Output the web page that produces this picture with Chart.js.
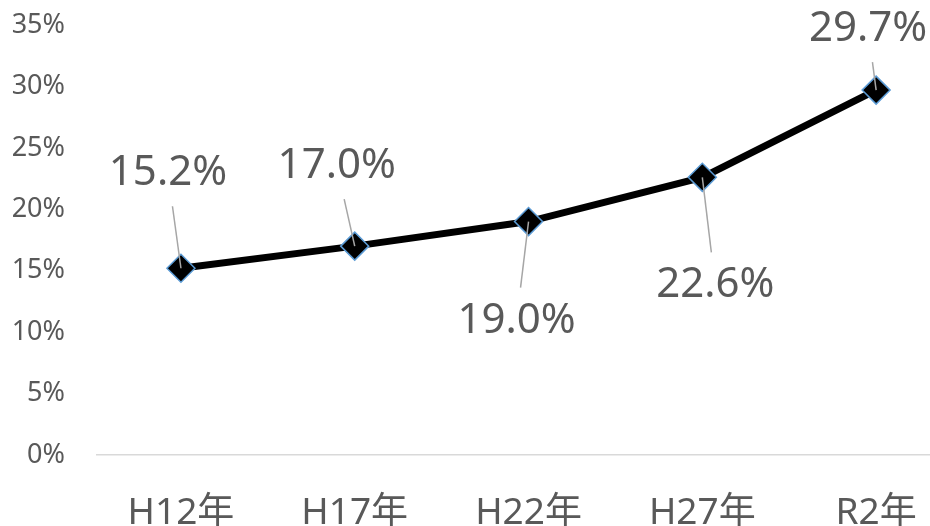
<!DOCTYPE html>
<html>
<head>
<meta charset="utf-8">
<script src="https://cdn.jsdelivr.net/npm/chart.js@4"></script>
<style>
  html, body { margin: 0; padding: 0; background: #fff; overflow: hidden; }
  #wrap { width: 930px; height: 526px; position: relative; }
</style>
</head>
<body>
<div id="wrap"><canvas id="rateChart"></canvas></div>
<script>
const years = ['H12年', 'H17年', 'H22年', 'H27年', 'R2年'];
const rates = [15.2, 17.0, 19.0, 22.6, 29.7];
const yTicks = [0, 5, 10, 15, 20, 25, 30, 35];

// where each value label sits relative to its point (px)
const labelOffsets = [[-13, -95], [-18, -80], [-12, 99], [13, 108], [-8, -61]];

const TEXT = '#595959';
const FONT = "'Noto Sans', 'Noto Sans CJK JP', sans-serif";

// value labels with gray leader lines, drawn over the markers
const calloutLabels = {
    id: 'calloutLabels',
    afterDatasetsDraw(chart) {
        const ctx = chart.ctx;
        const pts = chart.getDatasetMeta(0).data;
        ctx.save();
        pts.forEach((pt, i) => {
            const [dx, dy] = labelOffsets[i];
            const t = (Math.abs(dy) - 33) / Math.abs(dy);
            ctx.strokeStyle = '#a6a6a6';
            ctx.lineWidth = 1.5;
            ctx.beginPath();
            ctx.moveTo(pt.x, pt.y);
            ctx.lineTo(pt.x + dx * t, pt.y + dy * t);
            ctx.stroke();
            ctx.fillStyle = TEXT;
            ctx.font = '42px ' + FONT;
            ctx.textAlign = 'center';
            ctx.textBaseline = 'middle';
            ctx.fillText(rates[i].toFixed(1) + '%', pt.x + dx, pt.y + dy);
        });
        ctx.restore();
    }
};

new Chart(document.getElementById('rateChart'), {
    type: 'line',
    data: {
        datasets: [{
            data: rates.map((v, i) => ({ x: i, y: v })),
            borderColor: '#000',
            borderWidth: 7,
            pointStyle: 'rectRot',
            pointRadius: 14,
            pointBackgroundColor: '#000',
            pointBorderColor: '#5b9bd5',
            pointBorderWidth: 1.5,
            tension: 0
        }]
    },
    options: {
        responsive: true,
        maintainAspectRatio: false,
        animation: false,
        layout: { autoPadding: false, padding: { top: 25, right: 0, left: 0, bottom: 0 } },
        plugins: { legend: { display: false }, tooltip: { enabled: false } },
        scales: {
            x: {
                type: 'linear',
                min: -0.483,
                max: 4.31,
                afterBuildTicks: s => { s.ticks = years.map((_, i) => ({ value: i })); },
                afterFit: s => { s.height = 71; s.paddingLeft = 0; s.paddingRight = 0; },
                grid: { display: false, drawTicks: false },
                border: { display: true, color: '#d9d9d9', width: 1.5 },
                ticks: {
                    autoSkip: false,
                    maxRotation: 0,
                    padding: 36,
                    color: TEXT,
                    font: { size: 37, family: FONT },
                    callback: v => years[v]
                }
            },
            y: {
                min: 0,
                max: 35,
                afterBuildTicks: s => { s.ticks = yTicks.map(v => ({ value: v })); },
                afterFit: s => { s.width = 97; s.paddingTop = 0; s.paddingBottom = 0; },
                grid: { display: false, drawTicks: false },
                border: { display: false },
                ticks: {
                    padding: 32,
                    color: TEXT,
                    font: { size: 27, family: FONT },
                    callback: v => v + '%'
                }
            }
        }
    },
    plugins: [calloutLabels]
});
</script>
</body>
</html>
